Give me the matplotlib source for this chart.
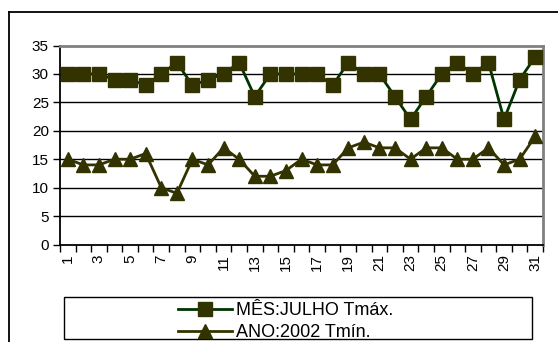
import matplotlib
matplotlib.use("Agg")
import matplotlib.pyplot as plt
from matplotlib.patches import Rectangle
from matplotlib.lines import Line2D

plt.rcParams['font.family'] = ['Liberation Sans', 'DejaVu Sans']

# daily temperatures, July 2002
days = list(range(1, 32))
tmax = [30, 30, 30, 29, 29, 28, 30, 32, 28, 29, 30, 32, 26, 30, 30, 30,
        30, 28, 32, 30, 30, 26, 22, 26, 30, 32, 30, 32, 22, 29, 33]
tmin = [15, 14, 14, 15, 15, 16, 10, 9, 15, 14, 17, 15, 12, 12, 13, 15,
        14, 14, 17, 18, 17, 17, 15, 17, 17, 15, 15, 17, 14, 15, 19]
labels = ['MÊS:JULHO Tmáx.', 'ANO:2002 Tmín.']
yticks = [0, 5, 10, 15, 20, 25, 30, 35]

W, H = 558, 342
fig = plt.figure(figsize=(W / 100, H / 100), dpi=100)

# outer chart border (left and top edges visible)
fig.add_artist(Line2D([8.5 / W, 8.5 / W], [0, 1 - 12 / H], color='black', lw=1.3))
fig.add_artist(Line2D([8.5 / W, 1], [1 - 12 / H, 1 - 12 / H], color='black', lw=1.3))

ax = fig.add_axes([60 / W, 1 - 244.5 / H, (543 - 60) / W, (244.5 - 45.5) / H])

ax.plot(days, tmax, color='#003300', lw=2, marker='s', markersize=9.5,
        markerfacecolor='#333300', markeredgecolor='#333300', label=labels[0], zorder=3)
ax.plot(days, tmin, color='#333300', lw=2, marker='^', markersize=10.5,
        markerfacecolor='#333300', markeredgecolor='#333300', label=labels[1], zorder=3)

ax.set_xlim(0.5, 31.5)
ax.set_ylim(0, 35)
ax.set_yticks(yticks)
for y in yticks[1:-1]:
    ax.axhline(y, color='black', lw=1, zorder=1)

# category boundaries get tick marks, odd days get labels
ax.set_xticks([d + 0.5 for d in range(0, 32)])
ax.set_xticklabels([])
ax.set_xticks(days[::2], minor=True)
ax.set_xticklabels([str(d) for d in days[::2]], minor=True, rotation=90, fontsize=11)
ax.tick_params(axis='x', which='major', direction='out', length=5, width=1)
ax.tick_params(axis='x', which='minor', length=0, pad=7)
ax.tick_params(axis='y', direction='out', length=5, width=1, labelsize=11, pad=3)

for side in ('left', 'bottom'):
    ax.spines[side].set_color('black')
    ax.spines[side].set_linewidth(1.3)
for side in ('top', 'right'):
    ax.spines[side].set_color('#808080')
    ax.spines[side].set_linewidth(2)

# legend frame and entries
fig.add_artist(Rectangle((64 / W, 1 - 338.5 / H), (532 - 64) / W, (338.5 - 297) / H,
                         transform=fig.transFigure, fill=False, ec='black', lw=1))
fig.legend(loc='upper left', bbox_to_anchor=(178 / W, 1 - 302 / H), frameon=False,
           fontsize=13, handlelength=3.0, handletextpad=0.2, labelspacing=0.3,
           borderpad=0, borderaxespad=0)

fig.savefig('out.png', dpi=100)
